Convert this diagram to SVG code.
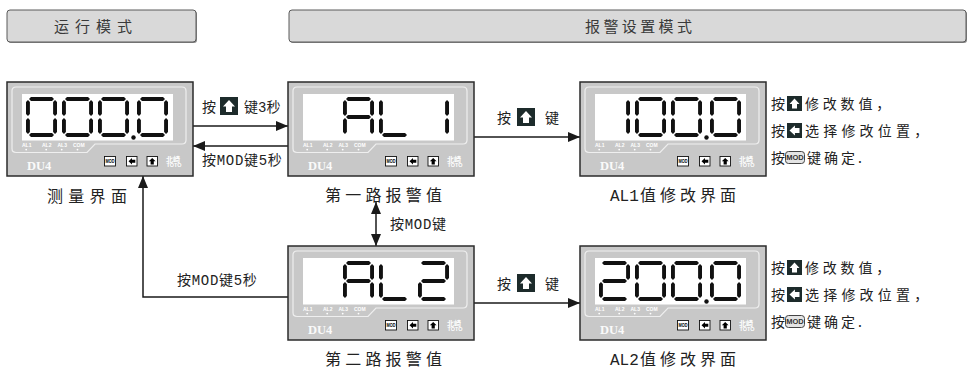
<svg xmlns="http://www.w3.org/2000/svg" xmlns:xlink="http://www.w3.org/1999/xlink" width="971" height="372" viewBox="0 0 971 372">
  <style>
    .cn { font-family: "Noto Sans CJK SC", sans-serif; fill: #222; }
    .lat { font-family: "Liberation Mono", monospace; }
    .hdr { font-family: "Noto Sans CJK SC", sans-serif; font-size: 15px; fill: #3a3a3a; }
    .hbox { fill: #d9d9d9; stroke: #5a5a5a; stroke-width: 1; }
    .hshadow { fill: #8a8a8a; }
    .seg { fill: #111; }
    .led { font-family: "Liberation Sans", sans-serif; font-size: 5px; font-weight: bold; fill: #fff; }
    .conn line, .conn polyline { stroke: #1a1a1a; stroke-width: 1.5; fill: none; }
    .key { fill: #1d2b2b; }
    .keyarrow { fill: #fff; }
  </style>
  <defs>
    <marker id="ah" viewBox="0 0 12 10" refX="12" refY="5" markerWidth="12" markerHeight="10" markerUnits="userSpaceOnUse" orient="auto-start-reverse">
      <path d="M0,0 L12,5 L0,10 Z" fill="#1a1a1a"/>
    </marker>

    <!-- seven-segment pieces: horizontal and vertical bar -->
    <polygon id="sh" points="3,1.95 4.95,0 26.05,0 28,1.95 26.05,3.9 4.95,3.9"/>
    <polygon id="sv" points="1.95,3 3.9,4.95 3.9,17.05 1.95,19 0,17.05 0,4.95"/>

    <g id="d0" class="seg">
      <use href="#sh"/><use href="#sh" y="36.1"/>
      <use href="#sv"/><use href="#sv" y="18"/>
      <use href="#sv" x="27.1"/><use href="#sv" x="27.1" y="18"/>
    </g>
    <g id="d1" class="seg">
      <use href="#sv" x="27.1"/><use href="#sv" x="27.1" y="18"/>
    </g>
    <g id="d2" class="seg">
      <use href="#sh"/><use href="#sh" y="18.05"/><use href="#sh" y="36.1"/>
      <use href="#sv" x="27.1"/><use href="#sv" y="18"/>
    </g>
    <g id="dA" class="seg">
      <use href="#sh"/><use href="#sh" y="18.05"/>
      <use href="#sv"/><use href="#sv" y="18"/>
      <use href="#sv" x="27.1"/><use href="#sv" x="27.1" y="18"/>
    </g>
    <g id="dL" class="seg">
      <use href="#sh" y="36.1"/>
      <use href="#sv"/><use href="#sv" y="18"/>
    </g>

    <!-- key glyphs -->
    <symbol id="kUp" viewBox="0 0 18 18">
      <rect class="key" width="18" height="18"/>
      <polygon class="keyarrow" points="9,3 15,9.5 12,9.5 12,15 6,15 6,9.5 3,9.5"/>
    </symbol>
    <symbol id="kLeft" viewBox="0 0 18 18">
      <rect class="key" width="18" height="18"/>
      <polygon class="keyarrow" points="3,9 9.5,3 9.5,6 15,6 15,12 9.5,12 9.5,15"/>
    </symbol>
    <symbol id="kMod" viewBox="0 0 20 13">
      <rect x="0.5" y="0.5" width="19" height="12" rx="3" fill="#e4e4e4" stroke="#444" stroke-width="1"/>
      <text x="10" y="9.3" text-anchor="middle" font-family="Liberation Sans, sans-serif" font-size="7.5" font-weight="bold" fill="#333">MOD</text>
    </symbol>

    <!-- meter front panel -->
    <g id="panelBase">
      <rect x="0" y="0" width="186" height="94" fill="#c8c8c8" stroke="#2b2b2b" stroke-width="1.5"/>
      <path d="M5,9 Q5,5 9,5 L175,5 Q179,5 179,9 L179,58 Q179,62 175,62 L88,62 L80,70.5 L9,70.5 Q5,70.5 5,66.5 Z" fill="none" stroke="#efefef" stroke-width="1.2"/>
      <rect x="15" y="12" width="151" height="46.5" fill="#fff"/>
      <text class="led" x="15" y="64.5">AL1</text>
      <text class="led" x="35" y="64.5">AL2</text>
      <text class="led" x="50.5" y="64.5">AL3</text>
      <text class="led" x="66" y="64.5">COM</text>
      <g fill="#fff">
        <circle cx="19.2" cy="67.6" r="0.9"/>
        <circle cx="39.2" cy="67.6" r="0.9"/>
        <circle cx="54.7" cy="67.6" r="0.9"/>
        <circle cx="70.5" cy="67.6" r="0.9"/>
      </g>
      <text x="20" y="87.5" font-family="Liberation Serif, serif" font-size="12.5" font-weight="bold" fill="#fafafa">DU4</text>
      <rect x="97.5" y="74.5" width="11" height="9.5" fill="#fff" stroke="#111" stroke-width="0.9"/>
      <text x="103" y="81.2" text-anchor="middle" font-family="Liberation Sans, sans-serif" font-size="4.6" font-weight="bold" fill="#000" textLength="9" lengthAdjust="spacingAndGlyphs">MOD</text>
      <rect x="119.5" y="74.5" width="10.5" height="9.5" fill="#fff" stroke="#111" stroke-width="0.9"/>
      <polygon points="121.5,79.2 125,76 125,77.7 128.3,77.7 128.3,80.7 125,80.7 125,82.4" fill="#000"/>
      <rect x="140" y="74.5" width="10.5" height="9.5" fill="#fff" stroke="#111" stroke-width="0.9"/>
      <polygon points="145.2,76 148.6,79.3 146.8,79.3 146.8,82.6 143.6,82.6 143.6,79.3 141.8,79.3" fill="#000"/>
      <text x="159" y="79.5" font-family="Noto Sans CJK SC, sans-serif" font-size="7" font-weight="bold" fill="#fff">北崎</text>
      <text x="159.5" y="84.6" font-family="Liberation Sans, sans-serif" font-size="4.5" font-weight="bold" fill="#fff" textLength="15" lengthAdjust="spacingAndGlyphs">TOTO</text>
    </g>
  </defs>

  <rect width="971" height="372" fill="#fff"/>

  <!-- mode headers -->
  <g id="hdr-run">
    <rect class="hshadow" x="8" y="11" width="189" height="32" rx="3"/>
    <rect class="hbox" x="7" y="10" width="189" height="32" rx="3"/>
    <text class="hdr" x="54" y="32" letter-spacing="6">运行模式</text>
  </g>
  <g id="hdr-alarm">
    <rect class="hshadow" x="290" y="11" width="677" height="32" rx="3"/>
    <rect class="hbox" x="289" y="10" width="677" height="32" rx="3"/>
    <text class="hdr" x="585" y="32" letter-spacing="3.4">报警设置模式</text>
  </g>

  <!-- connectors -->
  <g id="connectors" class="conn">
    <line x1="193" y1="126" x2="288" y2="126" marker-end="url(#ah)"/>
    <line x1="288" y1="146" x2="193" y2="146" marker-end="url(#ah)"/>
    <line x1="474" y1="137" x2="580" y2="137" marker-end="url(#ah)"/>
    <line x1="376" y1="202" x2="376" y2="246" marker-start="url(#ah)" marker-end="url(#ah)"/>
    <polyline points="288,297 143,297 143,176" marker-end="url(#ah)"/>
    <line x1="474" y1="303" x2="580" y2="303" marker-end="url(#ah)"/>

    <text class="cn" x="202" y="112" font-size="14">按</text>
    <use href="#kUp" x="220" y="97" width="18" height="18"/>
    <text class="cn" x="244" y="112" font-size="14">键<tspan class="lat">3</tspan>秒</text>

    <text class="cn" x="202" y="165" font-size="14" letter-spacing="0.7">按<tspan class="lat">MOD</tspan>键<tspan class="lat">5</tspan>秒</text>

    <text class="cn" x="497" y="123" font-size="14">按</text>
    <use href="#kUp" x="517" y="108" width="18" height="18"/>
    <text class="cn" x="545" y="123" font-size="14">键</text>

    <text class="cn" x="390" y="229" font-size="14" letter-spacing="0.7">按<tspan class="lat">MOD</tspan>键</text>

    <text class="cn" x="177" y="285" font-size="14" letter-spacing="0.7">按<tspan class="lat">MOD</tspan>键<tspan class="lat">5</tspan>秒</text>

    <text class="cn" x="497" y="289" font-size="14">按</text>
    <use href="#kUp" x="517" y="274" width="18" height="18"/>
    <text class="cn" x="545" y="289" font-size="14">键</text>
  </g>

  <!-- measurement display -->
  <g id="node-measure">
    <g transform="translate(7,82)">
      <use href="#panelBase"/>
      <use href="#d0" x="19" y="15"/>
      <use href="#d0" x="55" y="15"/>
      <use href="#d0" x="91" y="15"/>
      <circle cx="126.5" cy="55.5" r="2.2" fill="#111"/>
      <use href="#d0" x="130" y="15"/>
    </g>
    <text class="cn" x="47" y="202" font-size="16" letter-spacing="5.3">测量界面</text>
  </g>

  <!-- alarm 1 setting -->
  <g id="node-al1">
    <g transform="translate(288,82)">
      <use href="#panelBase"/>
      <use href="#dA" x="55" y="15"/>
      <use href="#dL" x="91" y="15"/>
      <use href="#d1" x="130" y="15"/>
    </g>
    <text class="cn" x="325" y="201" font-size="16" letter-spacing="4.2">第一路报警值</text>
  </g>

  <!-- alarm 1 value edit -->
  <g id="node-al1-edit">
    <g transform="translate(580,82)">
      <use href="#panelBase"/>
      <use href="#d1" x="19" y="15"/>
      <use href="#d0" x="55" y="15"/>
      <use href="#d0" x="91" y="15"/>
      <circle cx="126.5" cy="55.5" r="2.2" fill="#111"/>
      <use href="#d0" x="130" y="15"/>
    </g>
    <text class="cn" x="610" y="201" font-size="16"><tspan class="lat">AL1</tspan><tspan x="640" letter-spacing="4">值修改界面</tspan></text>
    <text class="cn" x="771" y="109" font-size="14">按</text>
    <use href="#kUp" x="787" y="96" width="15" height="15"/>
    <text class="cn" x="805" y="109" font-size="14" letter-spacing="3.8">修改数值，</text>
    <text class="cn" x="771" y="136" font-size="14">按</text>
    <use href="#kLeft" x="787" y="123" width="15" height="15"/>
    <text class="cn" x="805" y="136" font-size="14" letter-spacing="4.2">选择修改位置，</text>
    <text class="cn" x="771" y="163" font-size="14">按</text>
    <use href="#kMod" x="785" y="151" width="20" height="13"/>
    <text class="cn" x="807" y="163" font-size="14" letter-spacing="3">键确定.</text>
  </g>

  <!-- alarm 2 setting -->
  <g id="node-al2">
    <g transform="translate(288,246)">
      <use href="#panelBase"/>
      <use href="#dA" x="55" y="15"/>
      <use href="#dL" x="91" y="15"/>
      <use href="#d2" x="130" y="15"/>
    </g>
    <text class="cn" x="325" y="365" font-size="16" letter-spacing="4.2">第二路报警值</text>
  </g>

  <!-- alarm 2 value edit -->
  <g id="node-al2-edit">
    <g transform="translate(580,246)">
      <use href="#panelBase"/>
      <use href="#d2" x="19" y="15"/>
      <use href="#d0" x="55" y="15"/>
      <use href="#d0" x="91" y="15"/>
      <circle cx="126.5" cy="55.5" r="2.2" fill="#111"/>
      <use href="#d0" x="130" y="15"/>
    </g>
    <text class="cn" x="610" y="365" font-size="16"><tspan class="lat">AL2</tspan><tspan x="640" letter-spacing="4">值修改界面</tspan></text>
    <text class="cn" x="771" y="273" font-size="14">按</text>
    <use href="#kUp" x="787" y="260" width="15" height="15"/>
    <text class="cn" x="805" y="273" font-size="14" letter-spacing="3.8">修改数值，</text>
    <text class="cn" x="771" y="300" font-size="14">按</text>
    <use href="#kLeft" x="787" y="287" width="15" height="15"/>
    <text class="cn" x="805" y="300" font-size="14" letter-spacing="4.2">选择修改位置，</text>
    <text class="cn" x="771" y="327" font-size="14">按</text>
    <use href="#kMod" x="785" y="315" width="20" height="13"/>
    <text class="cn" x="807" y="327" font-size="14" letter-spacing="3">键确定.</text>
  </g>
</svg>
